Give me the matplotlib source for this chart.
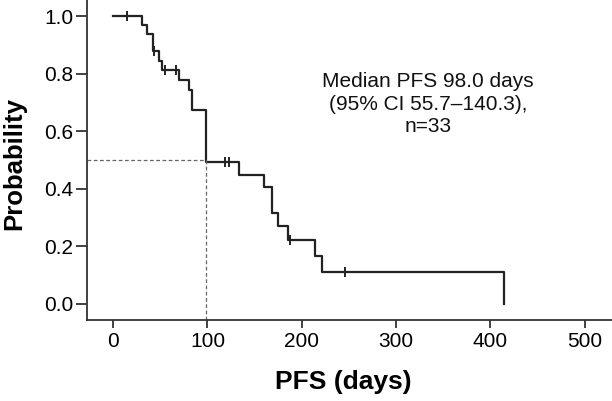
import matplotlib
matplotlib.use("Agg")
import matplotlib.pyplot as plt
import numpy as np

plt.rcParams['font.family'] = ['Liberation Sans', 'DejaVu Sans']

# Kaplan-Meier step data
event_days = [0, 30.7, 35.7, 41.7, 49.0, 51.6, 70.3, 80.6, 83.8, 98.3,
              133.6, 159.4, 168.3, 175.3, 185.2, 213.5, 221.3, 414.6]
survival = [1.0, 0.970, 0.939, 0.879, 0.845, 0.813, 0.779, 0.745, 0.675, 0.495,
            0.448, 0.406, 0.315, 0.271, 0.223, 0.167, 0.110, 0.0]
censor_days = [15, 42.8, 55, 66.8, 118.8, 122.3, 187, 246]

median_days = 98.0
median_prob = 0.5
annotation = "Median PFS 98.0 days\n(95% CI 55.7\u2013140.3),\nn=33"

x_ticks = [0, 100, 200, 300, 400, 500]
y_ticks = [0.0, 0.2, 0.4, 0.6, 0.8, 1.0]

fig = plt.figure(figsize=(6.12, 4.01), dpi=100)
ax = fig.add_axes([0.1426, 0.202, 0.8574, 0.798])

line_col = '#222222'
ax.step(event_days, survival, where='post', color=line_col, lw=1.6)

# censor marks
cs = [survival[np.searchsorted(event_days, c, side='right') - 1] for c in censor_days]
ax.plot(censor_days, cs, linestyle='none', marker='|', markersize=7,
        markeredgewidth=1.4, color=line_col)

xmin, xmax = -27.5, 529
ymin, ymax = -0.056, 1.057
# median dashed lines
ax.plot([xmin, median_days], [median_prob, median_prob], ls=(0, (3, 2)), lw=0.9, color='#666666')
ax.plot([median_days, median_days], [ymin, median_prob], ls=(0, (3, 2)), lw=0.9, color='#666666')

ax.set_xlim(xmin, xmax)
ax.set_ylim(ymin, ymax)
ax.set_xticks(x_ticks)
ax.set_yticks(y_ticks)
ax.set_yticklabels([f"{v:.1f}" for v in y_ticks])

for s in ['top', 'right']:
    ax.spines[s].set_visible(False)
for s in ['left', 'bottom']:
    ax.spines[s].set_color('#333333')
    ax.spines[s].set_linewidth(1.3)

ax.tick_params(axis='x', length=6, width=1.3, color='#333333', labelsize=15, pad=3)
ax.tick_params(axis='y', length=8, width=1.3, color='#333333', labelsize=15, pad=2)

ax.set_xlabel("PFS (days)", fontsize=19, fontweight='bold')
ax.set_ylabel("Probability", fontsize=18.5, fontweight='bold')
ax.xaxis.set_label_coords(0.487, -0.155)
ax.yaxis.set_label_coords(-0.116, 0.4875)

ax.text(334, 0.695, annotation, ha='center', va='center', fontsize=15,
        linespacing=1.25, color='#111111')

fig.savefig("out.png", dpi=100)
